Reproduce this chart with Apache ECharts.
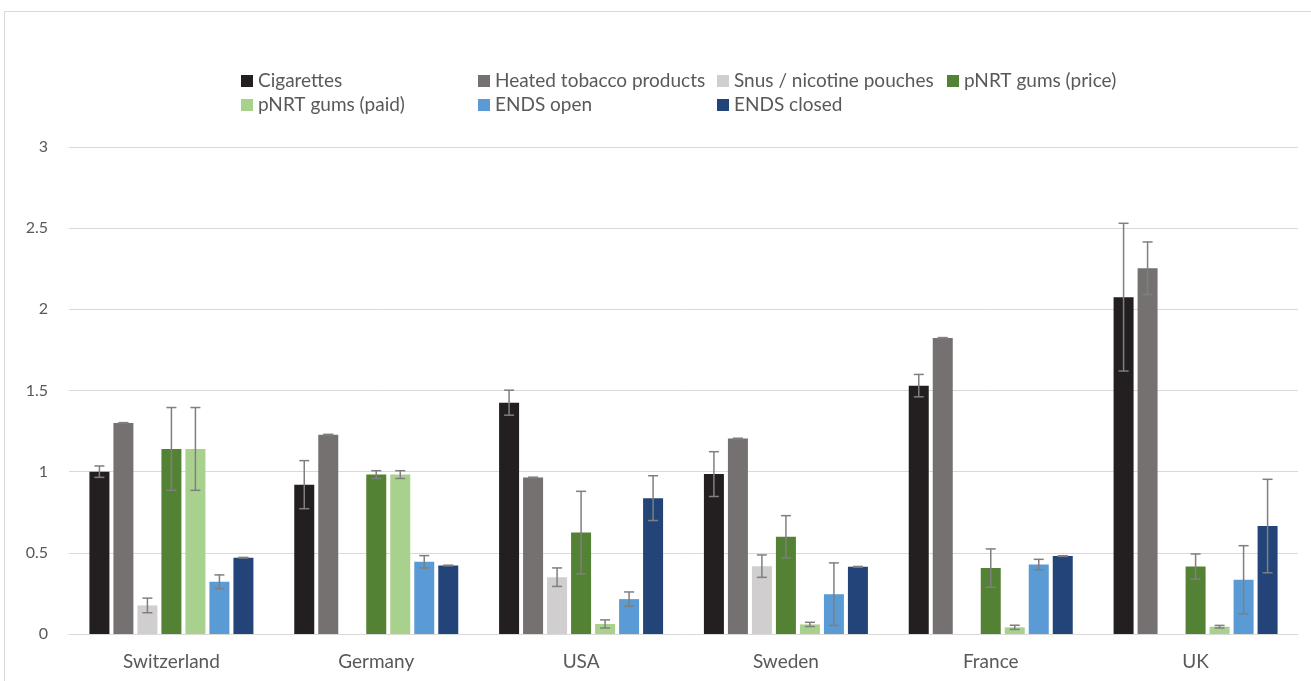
<!DOCTYPE html>
<html>
<head>
<meta charset="utf-8">
<script src="https://cdn.jsdelivr.net/npm/echarts@6/dist/echarts.min.js"></script>
<style>
  html, body { margin: 0; padding: 0; background: #fff; }
  #chart { width: 1311px; height: 681px; }
</style>
</head>
<body>
<div id="chart"></div>
<script>
// countries on the x axis
const countries = ['Switzerland', 'Germany', 'USA', 'Sweden', 'France', 'UK'];

// product series
const seriesNames = [
    'Cigarettes', 'Heated tobacco products', 'Snus / nicotine pouches',
    'pNRT gums (price)', 'pNRT gums (paid)', 'ENDS open', 'ENDS closed'
];

// bar values, one array per product (order of countries)
const cigarettes = [1.00, 0.92, 1.425, 0.985, 1.53, 2.075];
const heatedTobacco = [1.30, 1.228, 0.964, 1.204, 1.824, 2.253];
const snusPouches = [0.176, 0, 0.35, 0.418, 0, 0];
const nrtPrice = [1.14, 0.982, 0.625, 0.599, 0.406, 0.416];
const nrtPaid = [1.14, 0.982, 0.062, 0.059, 0.041, 0.045];
const endsOpen = [0.322, 0.445, 0.215, 0.245, 0.428, 0.334];
const endsClosed = [0.47, 0.422, 0.837, 0.414, 0.48, 0.665];

// half-length of each error bar
const cigarettesErr = [0.035, 0.148, 0.077, 0.138, 0.069, 0.455];
const heatedTobaccoErr = [0.002, 0.002, 0.002, 0.002, 0.002, 0.162];
const snusPouchesErr = [0.045, 0, 0.057, 0.069, 0, 0];
const nrtPriceErr = [0.255, 0.024, 0.254, 0.13, 0.118, 0.077];
const nrtPaidErr = [0.255, 0.024, 0.025, 0.013, 0.013, 0.008];
const endsOpenErr = [0.042, 0.038, 0.044, 0.193, 0.032, 0.21];
const endsClosedErr = [0.002, 0.002, 0.138, 0.002, 0.002, 0.288];

const values = [cigarettes, heatedTobacco, snusPouches, nrtPrice, nrtPaid, endsOpen, endsClosed];
const errors = [cigarettesErr, heatedTobaccoErr, snusPouchesErr, nrtPriceErr, nrtPaidErr, endsOpenErr, endsClosedErr];
const colors = ['#231f20', '#767171', '#d0cece', '#548235', '#a9d18e', '#5b9bd5', '#224479'];

const yTicks = [0, 0.5, 1, 1.5, 2, 2.5, 3];

const BAR_W = 20;
const BAR_STEP = 24;

// legend slots laid out like the Excel legend (4 columns, 2 rows)
const legendCols = [241, 478, 717, 947];
const legendRows = [71, 95];

const chart = echarts.init(document.getElementById('chart'));

const series = [];
values.forEach(function (vals, i) {
    series.push({
        name: seriesNames[i],
        type: 'bar',
        data: vals,
        barWidth: BAR_W,
        barGap: '20%',
        itemStyle: { color: colors[i] }
    });
});

// error bars, one custom series per product, shifted to sit on its bar
values.forEach(function (vals, i) {
    const offset = (i - (values.length - 1) / 2) * BAR_STEP;
    series.push({
        type: 'custom',
        silent: true,
        z: 5,
        data: vals.map(function (v, k) {
            return [k, v - errors[i][k], v + errors[i][k], errors[i][k]];
        }).filter(function (d) { return vals[d[0]] > 0; }),
        encode: { x: 0, y: [1, 2] },
        renderItem: function (params, api) {
            const lo = api.coord([api.value(0), api.value(1)]);
            const hi = api.coord([api.value(0), api.value(2)]);
            const x = lo[0] + offset;
            const cap = 5;
            const style = { stroke: '#7f7f7f', lineWidth: 1.5 };
            return {
                type: 'group',
                children: [
                    { type: 'line', shape: { x1: x, y1: hi[1], x2: x, y2: lo[1] }, style: style },
                    { type: 'line', shape: { x1: x - cap, y1: hi[1], x2: x + cap, y2: hi[1] }, style: style },
                    { type: 'line', shape: { x1: x - cap, y1: lo[1], x2: x + cap, y2: lo[1] }, style: style }
                ]
            };
        }
    });
});

const legends = seriesNames.map(function (name, i) {
    return {
        data: [name],
        left: legendCols[i % 4],
        top: legendRows[Math.floor(i / 4)],
        padding: 0,
        itemWidth: 12,
        itemHeight: 12,
        icon: 'rect',
        textStyle: { color: '#595959', fontSize: 19, lineHeight: 20, fontFamily: 'Lato' }
    };
});

const option = {
    backgroundColor: '#fff',
    animation: false,
    textStyle: { fontFamily: 'Lato' },
    graphic: [{
        type: 'rect',
        shape: { x: 4.5, y: 11.5, width: 1400, height: 800 },
        style: { fill: 'none', stroke: '#d9d9d9', lineWidth: 1 },
        silent: true
    }],
    legend: legends,
    grid: { left: 69, right: 13, top: 147, bottom: 47 },
    xAxis: {
        type: 'category',
        data: countries,
        axisTick: { show: false },
        axisLine: { lineStyle: { color: '#d9d9d9', width: 1 } },
        axisLabel: { color: '#595959', fontSize: 19, margin: 18, fontFamily: 'Lato' }
    },
    yAxis: {
        type: 'value',
        min: yTicks[0],
        max: yTicks[yTicks.length - 1],
        interval: 0.5,
        axisLine: { show: false },
        axisTick: { show: false },
        splitLine: { lineStyle: { color: '#d9d9d9', width: 1 } },
        axisLabel: { color: '#595959', fontSize: 16, margin: 21, fontFamily: 'Lato' }
    },
    series: series
};

chart.setOption(option);

window.addEventListener('resize', function () {
    chart.resize();
});
</script>
</body>
</html>
